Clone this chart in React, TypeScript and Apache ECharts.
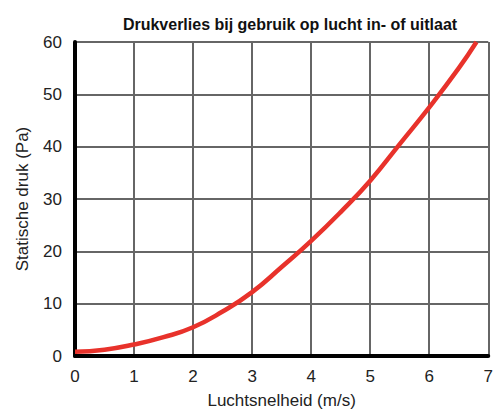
import React, { useEffect, useRef } from "react";
import * as echarts from "echarts";

const title = "Drukverlies bij gebruik op lucht in- of uitlaat";
const xName = "Luchtsnelheid (m/s)";
const yName = "Statische druk (Pa)";
const speed = [0, 0.5, 1, 1.5, 2, 2.5, 3, 3.5, 4, 4.5, 5, 5.5, 6, 6.5, 6.8];
const pressure = [0.8, 1.2, 2.2, 3.6, 5.5, 8.5, 12.2, 17, 22, 27.5, 33.5, 40.5, 47.5, 55, 60];

export default function App() {
  const ref = useRef<HTMLDivElement>(null);
  useEffect(() => {
    const chart = echarts.init(ref.current!, null, { renderer: "svg" });
    const font = "'Liberation Sans', Arial, Helvetica, sans-serif";
    chart.setOption({
      animation: false,
      textStyle: { fontFamily: font },
      title: {
        text: title,
        left: 285,
        textAlign: "center",
        top: 11,
        textStyle: { fontSize: 16, fontWeight: "bold", color: "#111", fontFamily: font },
      },
      grid: { left: 75, right: 4, top: 42, bottom: 52 },
      xAxis: {
        type: "value",
        min: 0,
        max: 7,
        interval: 1,
        name: xName,
        nameLocation: "middle",
        nameGap: 36,
        nameTextStyle: { fontSize: 17, color: "#222", fontFamily: font },
        axisLine: { lineStyle: { color: "#000", width: 4 } },
        axisTick: { show: false },
        axisLabel: { fontSize: 17, color: "#222", margin: 12, fontFamily: font },
        splitLine: { show: true, lineStyle: { color: "#666", width: 2 } },
      },
      yAxis: {
        type: "value",
        min: 0,
        max: 60,
        interval: 10,
        name: yName,
        nameLocation: "middle",
        nameGap: 44,
        nameTextStyle: { fontSize: 17, color: "#222", fontFamily: font },
        axisLine: { show: true, lineStyle: { color: "#000", width: 4 } },
        axisTick: { show: false },
        axisLabel: { fontSize: 17, color: "#222", margin: 13, fontFamily: font },
        splitLine: { show: true, lineStyle: { color: "#666", width: 2 } },
      },
      series: [
        {
          type: "line",
          data: speed.map((x, i) => [x, pressure[i]]),
          smooth: true,
          symbol: "none",
          lineStyle: { color: "#e8322b", width: 4.5 },
        },
      ],
    });
    return () => chart.dispose();
  }, []);
  return (
    <div
      ref={ref}
      style={{ position: "absolute", left: 0, top: 0, width: 496, height: 414 }}
    />
  );
}
